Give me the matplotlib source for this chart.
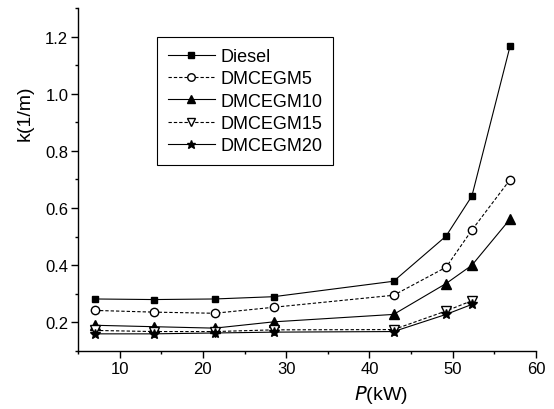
import matplotlib.pyplot as plt
from matplotlib.ticker import MultipleLocator

plt.rcParams['font.family'] = ['Liberation Sans', 'DejaVu Sans']

power = [7.0, 14.1, 21.4, 28.5, 42.9, 49.2, 52.3, 56.9]

diesel = [0.282, 0.280, 0.282, 0.290, 0.344, 0.502, 0.642, 1.168]
dmcegm5 = [0.242, 0.236, 0.232, 0.253, 0.295, 0.393, 0.523, 0.700]
dmcegm10 = [0.190, 0.185, 0.180, 0.202, 0.228, 0.336, 0.400, 0.562]
dmcegm15 = [0.172, 0.168, 0.168, 0.174, 0.175, 0.240, 0.276]
dmcegm20 = [0.160, 0.160, 0.163, 0.166, 0.168, 0.228, 0.263]

W, H = 554, 410
fig = plt.figure(figsize=(W / 100, H / 100), dpi=100)
ax = fig.add_axes([78 / W, 1 - 352 / H, (536 - 78) / W, (352 - 9) / H])

lw = 0.8
dash = (3, 1.8)
ax.plot(power, diesel, '-', color='black', lw=lw, marker='s', ms=5,
        mfc='black', mec='black', label='Diesel')
ax.plot(power, dmcegm5, '--', dashes=dash, color='black', lw=lw, marker='o', ms=6,
        mfc='white', mec='black', label='DMCEGM5')
ax.plot(power, dmcegm10, '-', color='black', lw=lw, marker='^', ms=6.5,
        mfc='black', mec='black', label='DMCEGM10')
ax.plot(power[:len(dmcegm15)], dmcegm15, '--', dashes=dash, color='black', lw=lw,
        marker='v', ms=6.5, mfc='white', mec='black', label='DMCEGM15')
ax.plot(power[:len(dmcegm20)], dmcegm20, '-', color='black', lw=lw, marker='*', ms=7,
        mfc='black', mec='black', label='DMCEGM20')

ax.set_xlim(5, 60)
ax.set_ylim(0.1, 1.3)
ax.xaxis.set_major_locator(MultipleLocator(10))
ax.xaxis.set_minor_locator(MultipleLocator(5))
ax.yaxis.set_minor_locator(MultipleLocator(0.1))
ax.set_yticks([0.2, 0.4, 0.6, 0.8, 1.0, 1.2])

for s in ['top', 'right']:
    ax.spines[s].set_visible(False)
for s in ['left', 'bottom']:
    ax.spines[s].set_linewidth(1.0)

ax.tick_params(which='major', direction='out', length=5, width=1.0,
               labelsize=12, pad=2)
ax.tick_params(which='minor', direction='out', length=2.5, width=1.0)

# axis titles sit off-centre in the original
fig.text(381 / W, 1 - 395 / H, r'$\it{P}$(kW)', fontsize=14,
         ha='center', va='center')
fig.text(25 / W, 1 - 113 / H, 'k(1/m)', fontsize=14, rotation=90,
         ha='center', va='center')

leg = ax.legend(loc='upper left', bbox_to_anchor=(157 / W, 1 - 38 / H),
                bbox_transform=fig.transFigure, fontsize=13,
                frameon=True, fancybox=False, handlelength=2.6, borderpad=0.6,
                labelspacing=0.3, handletextpad=0.3, borderaxespad=0,
                markerscale=0.9)
leg.get_frame().set_edgecolor('black')
leg.get_frame().set_linewidth(0.8)
leg.get_frame().set_alpha(1)

fig.savefig('out.png', dpi=100)
